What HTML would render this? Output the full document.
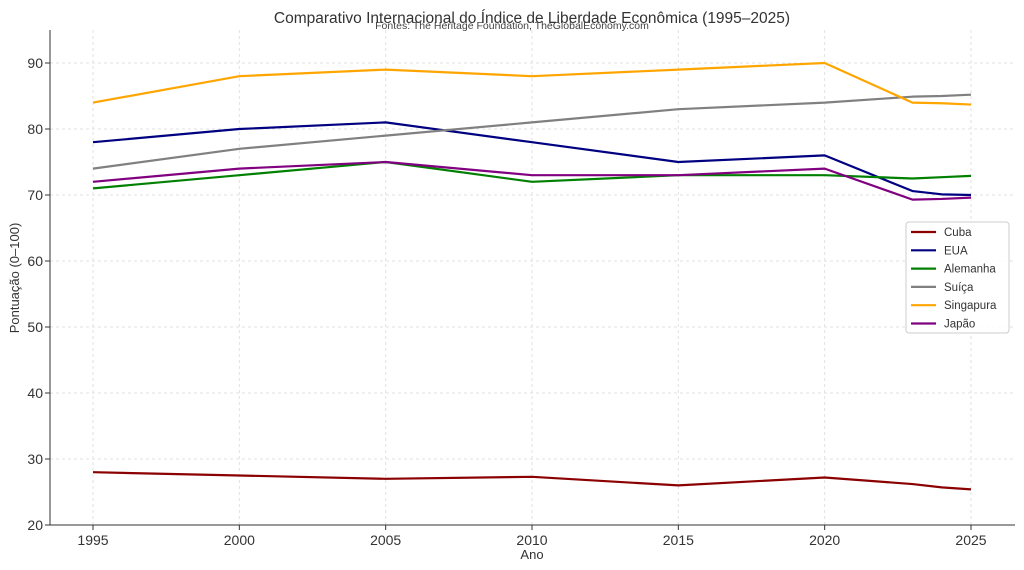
<!DOCTYPE html>
<html><head><meta charset="utf-8"><style>
body{margin:0;background:#fff;font-family:"Liberation Sans","DejaVu Sans",sans-serif;}
svg{display:block}
</style></head><body>
<svg id="chart" width="1024" height="570" xmlns="http://www.w3.org/2000/svg">
<text x="532" y="23" text-anchor="middle" font-size="15.5" fill="#333">Comparativo Internacional do Índice de Liberdade Econômica (1995–2025)</text>
<text x="512" y="29" text-anchor="middle" font-size="10.5" fill="#444">Fontes: The Heritage Foundation, TheGlobalEconomy.com</text>
<g id="grid"></g><g id="axes"></g><g id="series"></g><g id="legend"></g>
<text x="532" y="559" text-anchor="middle" font-size="13" fill="#333">Ano</text>
<text transform="translate(19,278) rotate(-90)" text-anchor="middle" font-size="13" fill="#333">Pontuação (0–100)</text>
</svg>
<script>
const years=[1995,2000,2005,2010,2015,2020,2023,2024,2025];
const xTicks=[1995,2000,2005,2010,2015,2020,2025];
const yTicks=[20,30,40,50,60,70,80,90];
const seriesNames=["Cuba","EUA","Alemanha","Suíça","Singapura","Japão"];
const seriesColors=["#8b0000","#000080","#008000","#808080","#ffa500","#800080"];
const cuba=[28,27.5,27,27.3,26,27.2,26.2,25.7,25.4];
const eua=[78,80,81,78,75,76,70.6,70.1,70.0];
const alemanha=[71,73,75,72,73,73,72.5,72.7,72.9];
const suica=[74,77,79,81,83,84,84.9,85,85.2];
const singapura=[84,88,89,88,89,90,84.0,83.9,83.7];
const japao=[72,74,75,73,73,74,69.3,69.4,69.6];
const allSeries=[cuba,eua,alemanha,suica,singapura,japao];
const NS="http://www.w3.org/2000/svg";
const X=y=>93+(y-1995)*(971-93)/30;
const Y=v=>525-(v-20)*6.6;
function mk(tag,attrs,parent){const e=document.createElementNS(NS,tag);for(const k in attrs)e.setAttribute(k,attrs[k]);parent.appendChild(e);return e;}
const grid=document.getElementById('grid'),axes=document.getElementById('axes'),ser=document.getElementById('series'),leg=document.getElementById('legend');
xTicks.forEach(t=>{
 const g=mk('line',{x1:X(t),x2:X(t),y1:30,y2:525,stroke:'#e2e2e2','stroke-dasharray':'3,3'},grid);
 
 
 mk('line',{x1:X(t),x2:X(t),y1:525,y2:530,stroke:'#333'},axes);
 const l=mk('text',{x:X(t),y:545,'text-anchor':'middle','font-size':14,fill:'#333'},axes);l.textContent=t;
 
 
});
yTicks.forEach(t=>{
 if(t>20){const g=mk('line',{x1:50,x2:1015,y1:Y(t),y2:Y(t),stroke:'#e2e2e2','stroke-dasharray':'3,3'},grid);
 
 }
 mk('line',{x1:45,x2:50,y1:Y(t),y2:Y(t),stroke:'#333'},axes);
 const l=mk('text',{x:43,y:Y(t)+5,'text-anchor':'end','font-size':14,fill:'#333'},axes);l.textContent=t;
 
 
});
const ax1=mk('line',{x1:50,x2:50,y1:30,y2:525,stroke:'#333'},axes);


const ax2=mk('line',{x1:50,x2:1015,y1:525,y2:525,stroke:'#333'},axes);


allSeries.forEach((s,i)=>{
 const p=mk('polyline',{points:s.map((v,j)=>X(years[j])+','+Y(v)).join(' '),fill:'none',stroke:seriesColors[i],'stroke-width':2.2,'stroke-linejoin':'round'},ser);
 
 
});
const box=mk('rect',{x:906,y:222,width:103,height:111,fill:'#fff','fill-opacity':0.85,stroke:'#ccc',rx:3},leg);


seriesNames.forEach((n,i)=>{
 const y=232+i*18.3;
 const g=mk('g',{},leg);
 
 
 mk('line',{x1:911,x2:936,y1:y,y2:y,stroke:seriesColors[i],'stroke-width':2.2},g);
 const t=mk('text',{x:944,y:y+4,'font-size':11.5,fill:'#333'},g);t.textContent=n;
});
</script>
</body></html>
